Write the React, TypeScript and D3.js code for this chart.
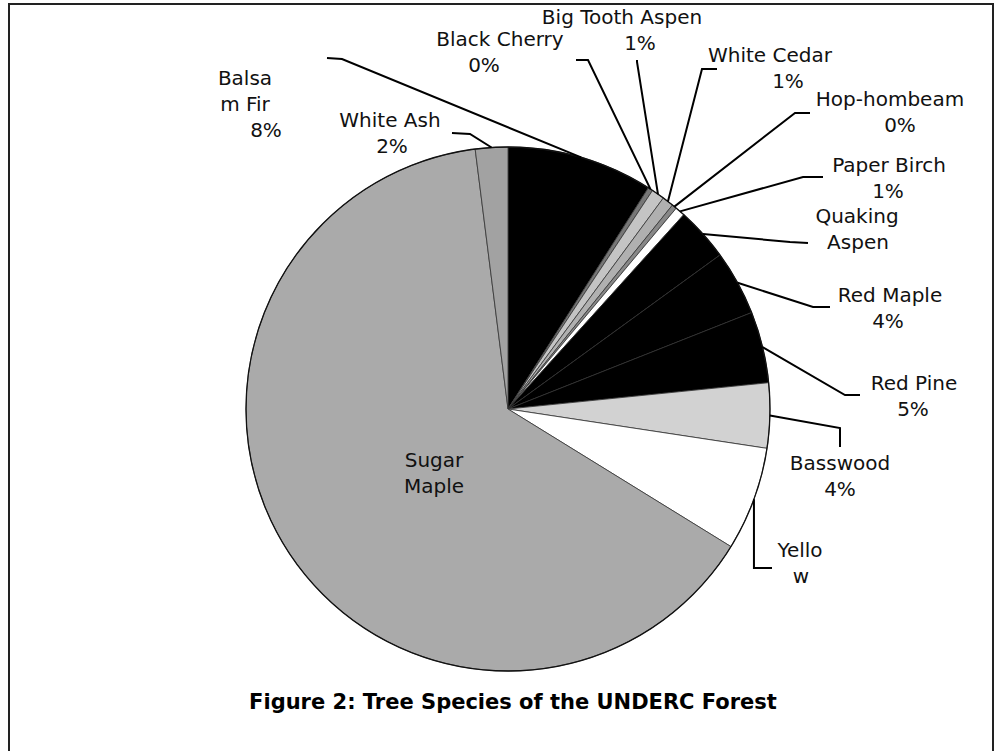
import React from 'react';
import * as d3 from 'd3';

// slices, clockwise from 12 o'clock (percent of trees)
const species = ['Balsam Fir', 'Black Cherry', 'Big Tooth Aspen', 'White Cedar', 'Hop-hornbeam', 'Paper Birch',
  'Quaking Aspen', 'Red Maple', 'Red Pine', 'Basswood', 'Yellow Birch', 'Sugar Maple', 'White Ash'];
const shares = [9.0, 0.3, 0.8, 0.7, 0.3, 0.6, 3.3, 4.0, 4.4, 4.0, 6.4, 64.2, 2.0];
const fills = ['#000', '#777', '#c4c4c4', '#b0b0b0', '#888', '#fff', '#000', '#000', '#000', '#d2d2d2', '#fff', '#aaaaaa', '#a2a2a2'];

// label text as printed (lines)
const labelLines = [
  ['Balsa', 'm Fir', '8%'], ['Black Cherry', '0%'], ['Big Tooth Aspen', '1%'], ['White Cedar', '1%'],
  ['Hop-hombeam', '0%'], ['Paper Birch', '1%'], ['Quaking', 'Aspen'], ['Red Maple', '4%'], ['Red Pine', '5%'],
  ['Basswood', '4%'], ['Yello', 'w'], ['Sugar', 'Maple'], ['White Ash', '2%'],
];

// label layout: text centre x per line, first baseline, leader start + elbow (null = no leader)
const labelPos = [
  { y: 85, xs: [245, 245, 266], lead: [[327, 58], [342, 59]] },
  { y: 46, xs: [500, 484], lead: [[576, 60], [588, 60]] },
  { y: 24, xs: [622, 640], lead: [[637, 60], [637, 62]] },
  { y: 62, xs: [770, 788], lead: [[717, 69], [702, 69]] },
  { y: 106, xs: [890, 900], lead: [[810, 113], [795, 113]] },
  { y: 172, xs: [889, 888], lead: [[823, 177], [803, 177]] },
  { y: 223, xs: [857, 858], lead: [[808, 243], [790, 242]] },
  { y: 302, xs: [890, 888], lead: [[830, 307], [813, 307]] },
  { y: 390, xs: [914, 913], lead: [[860, 395], [845, 395]] },
  { y: 470, xs: [840, 840], lead: [[840, 447], [840, 428]] },
  { y: 557, xs: [800, 801], lead: [[772, 568], [753, 568]], vertical: true },
  { y: 467, xs: [434, 434], lead: null },
  { y: 127, xs: [390, 392], lead: [[452, 133], [470, 134]] },
];

const cx = 508;
const cy = 409;
const r = 262;

export default function App() {
  const pie = d3.pie<number>().sort(null).value(d => d)(shares);
  const arc = d3.arc<d3.PieArcDatum<number>>().innerRadius(0).outerRadius(r);
  const edge = (a: number) => [cx + Math.sin(a) * r, cy - Math.cos(a) * r];
  const font = "'DejaVu Sans', Verdana, sans-serif";

  return (
    <svg width={996} height={751} viewBox="0 0 996 751"
      style={{ position: 'absolute', left: 0, top: 0, display: 'block', background: '#fff' }}>
      <rect x={9} y={4} width={984} height={800} fill="none" stroke="#222" strokeWidth={2} />
      <g transform={`translate(${cx},${cy})`}>
        {pie.map((p, i) => (
          <path key={species[i]} d={arc(p) || ''} fill={fills[i]} stroke="#333" strokeWidth={0.8} />
        ))}
        <circle r={r} fill="none" stroke="#111" strokeWidth={1.3} />
      </g>
      {pie.map((p, i) => {
        const L = labelPos[i];
        if (!L.lead) return null;
        const mid = (p.startAngle + p.endAngle) / 2;
        const [ex, ey] = edge(mid);
        const pts = L.lead.map(q => q.slice());
        if (L.vertical) pts[1][0] = ex;
        pts.push([ex, ey]);
        return (
          <polyline key={'l' + i} points={pts.map(q => q.join(',')).join(' ')} fill="none" stroke="#000" strokeWidth={2} />
        );
      })}
      {labelLines.map((lines, i) => (
        <text key={'t' + i} fontFamily={font} fontSize={20} fill="#111" textAnchor="middle">
          {lines.map((s, j) => (
            <tspan key={j} x={labelPos[i].xs[j]} y={labelPos[i].y + j * 26}>{s}</tspan>
          ))}
        </text>
      ))}
      <text x={513} y={709} fontFamily={font} fontSize={21} fontWeight="bold" textAnchor="middle" fill="#000">
        Figure 2: Tree Species of the UNDERC Forest
      </text>
    </svg>
  );
}
